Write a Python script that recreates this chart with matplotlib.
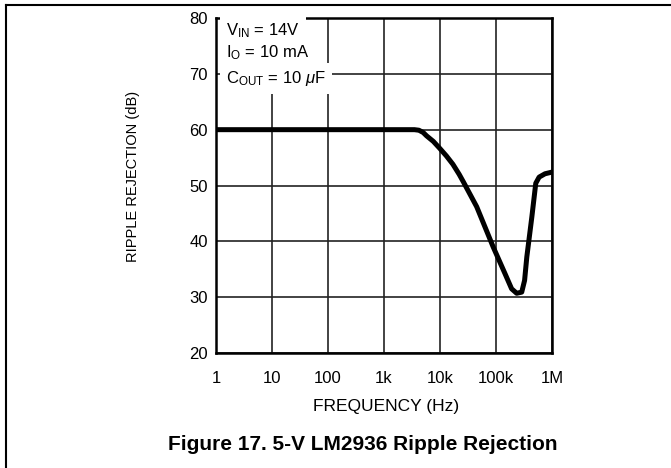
import matplotlib
matplotlib.use("Agg")
import matplotlib.pyplot as plt
from matplotlib.lines import Line2D

plt.rcParams['font.family'] = ['Liberation Sans', 'DejaVu Sans']
plt.rcParams['mathtext.fontset'] = 'custom'
plt.rcParams['mathtext.rm'] = 'Liberation Sans'
plt.rcParams['mathtext.it'] = 'Liberation Sans:italic'
plt.rcParams['mathtext.default'] = 'regular'

# ripple rejection curve
freq_hz = [1, 3500, 4200, 5000, 5750, 7600, 10000, 13000, 17000, 22000,
           26300, 45200, 89000, 145000, 190000, 234000, 288000, 324000,
           355000, 437000, 513000, 589000, 750000, 1000000]
rejection_db = [60.0, 60.0, 59.9, 59.5, 58.9, 57.9, 56.6, 55.3, 53.8, 52.0,
                50.6, 46.2, 39.0, 34.2, 31.5, 30.7, 30.9, 33.0,
                37.2, 44.4, 50.4, 51.5, 52.1, 52.4]

x_ticks = [1, 10, 100, 1e3, 1e4, 1e5, 1e6]
x_labels = ["1", "10", "100", "1k", "10k", "100k", "1M"]
y_ticks = [20, 30, 40, 50, 60, 70, 80]

conditions = ["V$_{\\mathrm{IN}}$ = 14V",
              "I$_{\\mathrm{O}}$ = 10 mA",
              "C$_{\\mathrm{OUT}}$ = 10 $\\mathit{\\mu}$F"]

W, H = 671, 468
fig = plt.figure(figsize=(W / 100, H / 100), dpi=100)
ax = fig.add_axes([216 / W, 1 - 353 / H, 336 / W, 335 / H])

ax.set_xscale('log')
ax.set_xlim(1, 1e6)
ax.set_ylim(20, 80)
ax.set_xticks(x_ticks)
ax.set_xticklabels(x_labels)
ax.minorticks_off()
ax.set_yticks(y_ticks)
ax.tick_params(axis='x', length=0, pad=13, labelsize=12)
ax.tick_params(axis='y', length=0, pad=6, labelsize=12)
ax.grid(True, color='#222222', linewidth=1.2)
ax.set_axisbelow(True)
for s in ax.spines.values():
    s.set_linewidth(1.8)
    s.set_color('black')

ax.plot(freq_hz, rejection_db, color='black', linewidth=3.6,
        solid_joinstyle='round', solid_capstyle='round', zorder=3)

# test conditions, each line blanks out the grid behind it
for txt, yb in zip(conditions, [0.949, 0.884, 0.806]):
    ax.text(0.03, yb, txt, transform=ax.transAxes, fontsize=12,
            va='baseline', ha='left', zorder=4,
            bbox=dict(facecolor='white', edgecolor='none', pad=4.5))

fig.text(386 / W, 1 - 407 / H, "FREQUENCY (Hz)", fontsize=12.5,
         ha='center', va='center')
fig.text(133 / W, 1 - 176 / H, "RIPPLE REJECTION (dB)", fontsize=10.5,
         rotation=90, ha='center', va='center')
fig.text(363 / W, 1 - 444 / H, "Figure 17. 5-V LM2936 Ripple Rejection",
         fontsize=15, fontweight='bold', ha='center', va='center')

# page frame lines
fig.add_artist(Line2D([6 / W, 1], [1 - 4.5 / H, 1 - 4.5 / H],
                      transform=fig.transFigure, color='black', linewidth=1.5))
fig.add_artist(Line2D([6 / W, 6 / W], [0, 1 - 4.5 / H],
                      transform=fig.transFigure, color='black', linewidth=1.5))

fig.savefig("out.png", dpi=100)
